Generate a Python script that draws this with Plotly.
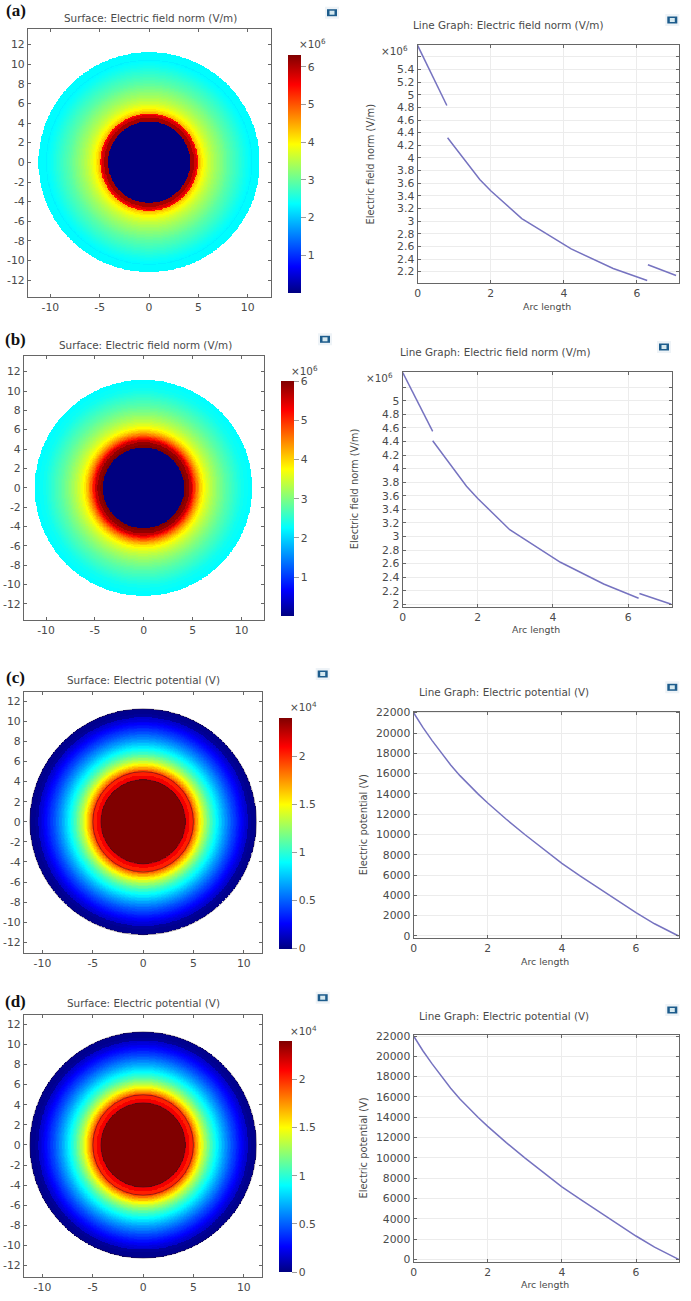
import numpy as np
import plotly.graph_objects as go

W = 691
H = 1301

# radial bands of the surface plots: outer radius of each band and its value
FIELD_A_R = [4.15, 4.55, 4.8, 4.95, 5.1, 5.25, 5.4, 5.55, 5.7, 5.85, 6.0, 6.15, 6.3, 6.45, 6.6, 6.75, 6.9, 7.05, 7.2, 7.35, 7.5, 7.65, 7.8, 7.95, 8.1, 8.25, 8.4, 8.55, 8.7, 8.85, 9.0, 9.15, 9.3, 9.45, 9.6, 9.75, 9.9, 10.05, 10.2, 10.35, 10.45, 11.2]
FIELD_A_Z = [0.0, 6.1, 5.8, 5.5, 4.4, 4.22, 4.08, 3.97, 3.87, 3.78, 3.7, 3.63, 3.56, 3.5, 3.44, 3.38, 3.33, 3.28, 3.23, 3.18, 3.13, 3.08, 3.03, 2.98, 2.93, 2.89, 2.85, 2.81, 2.77, 2.73, 2.69, 2.65, 2.61, 2.57, 2.53, 2.49, 2.45, 2.42, 2.39, 2.36, 2.29, 2.36]
FIELD_B_R = [4.16, 4.4, 4.7, 4.95, 5.05, 5.15, 5.25, 5.35, 5.45, 5.55, 5.65, 5.75, 5.85, 5.95, 6.1, 6.25, 6.4, 6.55, 6.7, 6.85, 7.0, 7.15, 7.3, 7.45, 7.6, 7.75, 7.9, 8.05, 8.2, 8.35, 8.5, 8.65, 8.8, 8.95, 9.1, 9.25, 9.4, 9.55, 9.7, 9.85, 10.0, 10.3, 10.7, 11.15]
FIELD_B_Z = [0.0, 6.0, 5.9, 5.6, 5.35, 5.15, 4.98, 4.8, 4.64, 4.5, 4.36, 4.23, 4.11, 4.0, 3.87, 3.75, 3.65, 3.56, 3.48, 3.41, 3.34, 3.27, 3.21, 3.15, 3.09, 3.03, 2.98, 2.93, 2.88, 2.83, 2.78, 2.74, 2.7, 2.66, 2.62, 2.58, 2.54, 2.5, 2.46, 2.42, 2.39, 2.34, 2.29, 2.25]
POTENTIAL_R = [4.2, 4.6, 5.0, 5.1, 5.2, 5.3, 5.4, 5.5, 5.6, 5.7, 5.8, 5.9, 6.0, 6.1, 6.2, 6.3, 6.4, 6.5, 6.6, 6.7, 6.8, 6.9, 7.0, 7.1, 7.2, 7.3, 7.4, 7.5, 7.6, 7.7, 7.8, 7.9, 8.0, 8.1, 8.2, 8.3, 8.4, 8.5, 8.6, 8.7, 8.8, 8.9, 9.0, 9.1, 9.2, 9.3, 9.4, 9.5, 9.6, 9.7, 9.8, 9.9, 10.0, 10.2, 10.4, 10.7, 11.25]
POTENTIAL_Z = [2.4, 2.13, 2.03, 1.93, 1.85, 1.78, 1.72, 1.66, 1.6, 1.54, 1.49, 1.44, 1.39, 1.34, 1.3, 1.26, 1.22, 1.18, 1.14, 1.1, 1.06, 1.03, 1.0, 0.97, 0.94, 0.91, 0.88, 0.85, 0.82, 0.79, 0.76, 0.73, 0.70, 0.67, 0.64, 0.62, 0.59, 0.56, 0.54, 0.51, 0.48, 0.46, 0.43, 0.41, 0.39, 0.37, 0.34, 0.32, 0.3, 0.28, 0.26, 0.24, 0.22, 0.19, 0.16, 0.05, 0.03]
POTENTIAL_RINGS = [4.2, 5.0, 11.25]

# line graphs, field values in units of 1e6
ARC_A = [0, 0.8, None, 0.82, 1.7, 2.0, 2.85, 4.2, 5.35, 6.28, None, 6.3, 7.07]
LINE_A = [5.78, 4.83, None, 4.32, 3.66, 3.48, 3.04, 2.56, 2.25, 2.06, None, 2.31, 2.14]
ARC_B = [0, 0.8, None, 0.8, 1.7, 2.0, 2.85, 4.2, 5.35, 6.28, None, 6.3, 7.15]
LINE_B = [5.42, 4.55, None, 4.41, 3.74, 3.56, 3.1, 2.62, 2.3, 2.09, None, 2.16, 2.0]
ARC_V = [0, 0.25, 0.5, 0.75, 1, 1.25, 1.5, 1.75, 2, 2.5, 3, 3.5, 4, 4.5, 5, 5.5, 6, 6.5, 7.15]
LINE_V = [22000, 20550, 19250, 18000, 16850, 15800, 14850, 13950, 13100, 11500, 10000, 8550, 7150, 5900, 4700, 3480, 2300, 1200, 0]

SURF_X_TICKS = [-10, -5, 0, 5, 10]
SURF_X_TEXT = ["-10", "-5", "0", "5", "10"]
SURF_Y_TICKS = [-12, -10, -8, -6, -4, -2, 0, 2, 4, 6, 8, 10, 12]
SURF_Y_TEXT = ["-12", "-10", "-8", "-6", "-4", "-2", "0", "2", "4", "6", "8", "10", "12"]
ARC_TICKS = [0, 2, 4, 6]
ARC_TEXT = ["0", "2", "4", "6"]
E_TICKS_A = [2.2, 2.4, 2.6, 2.8, 3, 3.2, 3.4, 3.6, 3.8, 4, 4.2, 4.4, 4.6, 4.8, 5, 5.2, 5.4, 5.6]
E_TEXT_A = ["2.2", "2.4", "2.6", "2.8", "3", "3.2", "3.4", "3.6", "3.8", "4", "4.2", "4.4", "4.6", "4.8", "5", "5.2", "5.4", ""]
E_TICKS_B = [2, 2.2, 2.4, 2.6, 2.8, 3, 3.2, 3.4, 3.6, 3.8, 4, 4.2, 4.4, 4.6, 4.8, 5, 5.2]
E_TEXT_B = ["2", "2.2", "2.4", "2.6", "2.8", "3", "3.2", "3.4", "3.6", "3.8", "4", "4.2", "4.4", "4.6", "4.8", "5", ""]
V_TICKS = [0, 2000, 4000, 6000, 8000, 10000, 12000, 14000, 16000, 18000, 20000, 22000]
V_TEXT = ["0", "2000", "4000", "6000", "8000", "10000", "12000", "14000", "16000", "18000", "20000", "22000"]
CB_E_TICKS_A = [1, 2, 3, 4, 5, 6]
CB_E_TICKS_B = [1, 2, 3, 4, 5, 6]
CB_V_TICKS = [0, 0.5, 1, 1.5, 2]
CB_V_TEXT = ["0", "0.5", "1", "1.5", "2"]

JET = [
    [0, "#000080"], [0.11, "#0000ff"], [0.375, "#00ffff"],
    [0.625, "#ffff00"], [0.875, "#ff0000"], [1, "#800000"],
]
TEXT = "#4a4a4a"
FRAME = "#666666"
FONT = "DejaVu Sans"
FS = 10.4

fig = go.Figure()
shapes = []
notes = []


def px_x(x):
    return x / W


def px_y(y):
    return 1 - y / H


def note(text, x, y, size=FS, angle=0, family=FONT, color=TEXT):
    notes.append(dict(
        text=text, x=px_x(x), y=px_y(y), xref="paper", yref="paper",
        showarrow=False, xanchor="center", yanchor="middle",
        textangle=angle, font=dict(family=family, size=size, color=color),
    ))


def icon(x, y):
    for hw, hh, col in [(7, 6, "#eef3f7"), (5, 3.5, "#1d5c8c"), (2.5, 2, "#d5e8ef")]:
        shapes.append(dict(
            type="rect", xref="paper", yref="paper",
            x0=px_x(x - hw), x1=px_x(x + hw), y0=px_y(y + hh), y1=px_y(y - hh),
            line_width=0, fillcolor=col,
        ))


def axis(n, frame_px, horizontal, rng, ticks, text, grid):
    a, b = frame_px
    dom = [px_x(a), px_x(b)] if horizontal else [px_y(b), px_y(a)]
    return dict(
        domain=dom, range=rng, anchor=("y" if horizontal else "x") + str(n),
        tickmode="array", tickvals=ticks, ticktext=text,
        ticks="inside", ticklen=3, tickcolor=FRAME, tickwidth=1,
        showline=True, linecolor=FRAME, linewidth=1.3, mirror="ticks",
        showgrid=grid, gridcolor="#ececec", gridwidth=1, zeroline=False,
        tickfont=dict(family=FONT, size=FS + 0.4, color=TEXT),
    )


def surface(n, frame, xr, yr, band_r, band_z, zmax, cbar, cb_ticks, cb_text):
    # lookup per radial band, nan outside the disc
    xs = np.arange(xr[0], xr[1], 0.06)
    ys = np.arange(yr[0], yr[1], 0.06)
    xx, yy = np.meshgrid(xs, ys)
    rr = np.hypot(xx, yy)
    idx = np.searchsorted(band_r, rr)
    z = np.array(band_z + [np.nan])[np.minimum(idx, len(band_z))]
    fig.add_trace(go.Heatmap(
        x=xs, y=ys, z=z, xaxis="x%d" % n, yaxis="y%d" % n,
        colorscale=JET, zmin=0, zmax=zmax, hoverongaps=False,
        colorbar=dict(
            x=px_x(cbar[0]), xanchor="left", xpad=0, y=px_y(cbar[3]), yanchor="bottom", ypad=0,
            len=(cbar[3] - cbar[2]) / H, thickness=cbar[1] - cbar[0], outlinewidth=0,
            tickmode="array", tickvals=cb_ticks, ticktext=cb_text,
            ticks="outside", ticklen=5, tickcolor="rgba(90,90,90,0.6)",
            tickfont=dict(family=FONT, size=FS + 0.4, color=TEXT),
        ),
    ))
    fig.layout["xaxis%d" % n] = axis(n, frame[:2], True, xr, SURF_X_TICKS, SURF_X_TEXT, False)
    fig.layout["yaxis%d" % n] = axis(n, frame[2:], False, yr, SURF_Y_TICKS, SURF_Y_TEXT, False)


def line_graph(n, frame, xr, yr, arc, vals, yticks, ytext):
    fig.add_trace(go.Scatter(
        x=arc, y=vals, mode="lines", xaxis="x%d" % n, yaxis="y%d" % n,
        line=dict(color="#7673c0", width=1.5), showlegend=False,
    ))
    fig.layout["xaxis%d" % n] = axis(n, frame[:2], True, xr, ARC_TICKS, ARC_TEXT, True)
    fig.layout["yaxis%d" % n] = axis(n, frame[2:], False, yr, yticks, ytext, True)


# (a)
surface(1, (28, 270.7, 28.7, 296.7), [-12.26, 12.33], [-13.67, 13.6], FIELD_A_R, FIELD_A_Z, 6.32,
        (287.7, 300.3, 54.7, 292.7), CB_E_TICKS_A, [str(v) for v in CB_E_TICKS_A])
line_graph(2, (417.6, 679, 45, 283.3), [0, 7.15], [2.016, 5.787], ARC_A, LINE_A, E_TICKS_A, E_TEXT_A)
# (b)
surface(3, (24, 264, 355.7, 620.3), [-12.25, 12.3], [-13.7, 13.65], FIELD_B_R, FIELD_B_Z, 6,
        (280.7, 293.3, 381.7, 616.3), CB_E_TICKS_B, [str(v) for v in CB_E_TICKS_B])
line_graph(4, (402.6, 671.7, 372.3, 606.7), [0, 7.16], [1.965, 5.42], ARC_B, LINE_B, E_TICKS_B, E_TEXT_B)
# (c)
surface(5, (24, 262, 692.3, 953.3), [-11.83, 11.8], [-13.1, 12.9], POTENTIAL_R, POTENTIAL_Z, 2.4,
        (279, 291.7, 717.3, 948.7), CB_V_TICKS, CB_V_TEXT)
line_graph(6, (413.6, 679, 711.7, 938.3), [0, 7.16], [-230, 22100], ARC_V, LINE_V, V_TICKS, V_TEXT)
# (d)
surface(7, (24, 262, 1015.3, 1276.7), [-11.83, 11.8], [-13.1, 12.9], POTENTIAL_R, POTENTIAL_Z, 2.4,
        (279, 291.7, 1040.7, 1272), CB_V_TICKS, CB_V_TEXT)
line_graph(8, (413.6, 679, 1035, 1261.7), [0, 7.16], [-230, 22100], ARC_V, LINE_V, V_TICKS, V_TEXT)

# thin dark outlines in the potential plots
for n in (5, 7):
    for r in POTENTIAL_RINGS:
        shapes.append(dict(
            type="circle", xref="x%d" % n, yref="y%d" % n, x0=-r, x1=r, y0=-r, y1=r,
            line=dict(color="rgba(40,20,40,0.6)", width=0.8),
        ))

SURF_E = "Surface: Electric field norm (V/m)"
SURF_V = "Surface: Electric potential (V)"
LINE_E = "Line Graph: Electric field norm (V/m)"
LINE_P = "Line Graph: Electric potential (V)"
note(SURF_E, 150, 18)
note(LINE_E, 507.7, 25)
note(SURF_E, 145, 345)
note(LINE_E, 495, 352)
note(SURF_V, 143.3, 680)
note(LINE_P, 504.3, 692.3)
note(SURF_V, 143.3, 1003.3)
note(LINE_P, 504.3, 1015.7)

note("Arc length", 547.3, 306.7, size=9.4)
note("Arc length", 536, 629.3, size=9.4)
note("Arc length", 545, 961, size=9.4)
note("Arc length", 545, 1284.3, size=9.4)
note("Electric field norm (V/m)", 370, 164.5, size=9.9, angle=-90)
note("Electric field norm (V/m)", 354.3, 489, size=9.9, angle=-90)
note("Electric potential (V)", 363.3, 825, size=9.9, angle=-90)
note("Electric potential (V)", 363.3, 1148.3, size=9.9, angle=-90)

note("×10<sup>6</sup>", 312, 44)
note("×10<sup>6</sup>", 394.3, 51)
note("×10<sup>6</sup>", 304.3, 370)
note("×10<sup>6</sup>", 379, 377.3)
note("×10<sup>4</sup>", 303.3, 706.7)
note("×10<sup>4</sup>", 303.3, 1030)

for label, y in [("(a)", 11), ("(b)", 340), ("(c)", 677), ("(d)", 1001)]:
    note("<b>%s</b>" % label, 16, y, size=17, family="Liberation Serif", color="#111111")

for x, y in [(332, 12.7), (672.3, 20), (325, 339.3), (664, 347),
             (322.7, 674), (672.3, 687.3), (322.7, 997.7), (672.3, 1010)]:
    icon(x, y)

fig.update_layout(
    width=W, height=H, margin=dict(l=0, r=0, t=0, b=0, autoexpand=False),
    paper_bgcolor="white", plot_bgcolor="white", showlegend=False,
    shapes=shapes, annotations=notes,
)

fig.write_html(
    "out.html",
    config={"displayModeBar": False},
    post_script="document.body.style.margin='0';document.body.style.overflow='hidden';",
)
